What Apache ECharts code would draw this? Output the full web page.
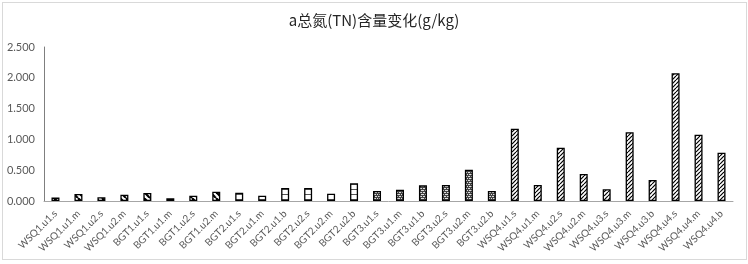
<!DOCTYPE html>
<html>
<head>
<meta charset="utf-8">
<script src="https://cdn.jsdelivr.net/npm/echarts@6/dist/echarts.min.js"></script>
<style>
html, body { margin: 0; padding: 0; background: #fff; }
#tnChart { position: absolute; left: 0; top: 0; width: 748px; height: 264px; }
#frame { position: absolute; left: 2px; top: 2px; width: 743px; height: 256px; border: 1px solid #d9d9d9; pointer-events: none; }
</style>
</head>
<body>
<div id="tnChart"></div>
<div id="frame"></div>
<script>
// 采样点
var sites = ['WSQ1.u1.s', 'WSQ1.u1.m', 'WSQ1.u2.s', 'WSQ1.u2.m', 'BGT1.u1.s', 'BGT1.u1.m', 'BGT1.u2.s', 'BGT1.u2.m',
	'BGT2.u1.s', 'BGT2.u1.m', 'BGT2.u1.b', 'BGT2.u2.s', 'BGT2.u2.m', 'BGT2.u2.b',
	'BGT3.u1.s', 'BGT3.u1.m', 'BGT3.u1.b', 'BGT3.u2.s', 'BGT3.u2.m', 'BGT3.u2.b',
	'WSQ4.u1.s', 'WSQ4.u1.m', 'WSQ4.u2.s', 'WSQ4.u2.m', 'WSQ4.u3.s', 'WSQ4.u3.m', 'WSQ4.u3.b', 'WSQ4.u4.s', 'WSQ4.u4.m', 'WSQ4.u4.b'];
// 总氮含量 g/kg
var tnValues = [0.055, 0.114, 0.060, 0.103, 0.130, 0.043, 0.087, 0.150,
	0.135, 0.087, 0.211, 0.211, 0.119, 0.287,
	0.162, 0.184, 0.254, 0.260, 0.508, 0.162,
	1.174, 0.260, 0.866, 0.438, 0.190, 1.115, 0.341, 2.073, 1.077, 0.785];
// 每个柱子的填充样式
var fillKind = ['wide', 'wide', 'wide', 'wide', 'wide', 'wide', 'wide', 'wide',
	'hline', 'hline', 'hline', 'hline', 'hline', 'hline',
	'brick', 'brick', 'brick', 'brick', 'brick', 'brick',
	'fine', 'fine', 'fine', 'fine', 'fine', 'fine', 'fine', 'fine', 'fine', 'fine'];
var yTicks = [0, 0.5, 1, 1.5, 2, 2.5];

// 生成填充图案
function makePattern(kind) {
	var c = document.createElement('canvas');
	var ctx = c.getContext('2d');
	if (kind == 'wide') {
		c.width = 6; c.height = 6;
		ctx.fillStyle = '#fff'; ctx.fillRect(0, 0, 6, 6);
		ctx.strokeStyle = '#000'; ctx.lineWidth = 2.2;
		for (var k = -6; k <= 12; k += 6) {
			ctx.beginPath(); ctx.moveTo(k, 0); ctx.lineTo(k + 6, 6); ctx.stroke();
		}
	} else if (kind == 'hline') {
		c.width = 4; c.height = 5;
		ctx.fillStyle = '#fff'; ctx.fillRect(0, 0, 4, 5);
		ctx.fillStyle = '#555'; ctx.fillRect(0, 4, 4, 1);
	} else if (kind == 'brick') {
		c.width = 6; c.height = 4;
		ctx.fillStyle = '#444'; ctx.fillRect(0, 0, 6, 4);
		ctx.fillStyle = '#ddd'; ctx.fillRect(0, 0, 2, 1); ctx.fillRect(3, 0, 2, 1);
		ctx.fillRect(1, 2, 3, 1); ctx.fillRect(5, 2, 1, 1);
	} else {
		c.width = 4; c.height = 4;
		ctx.fillStyle = '#fff'; ctx.fillRect(0, 0, 4, 4);
		ctx.strokeStyle = '#000'; ctx.lineWidth = 1.2;
		for (var k = -4; k <= 8; k += 4) {
			ctx.beginPath(); ctx.moveTo(k, 4); ctx.lineTo(k + 4, 0); ctx.stroke();
		}
	}
	return { image: c, repeat: 'repeat' };
}

var patterns = {};
var barData = [];
for (var i = 0; i < tnValues.length; i++) {
	var kind = fillKind[i];
	if (!patterns[kind]) patterns[kind] = makePattern(kind);
	barData.push({
		value: tnValues[i],
		itemStyle: { color: patterns[kind] }
	});
}

var myChart = echarts.init(document.getElementById('tnChart'));
var option = {
	animation: false,
	title: {
		text: 'a总氮(TN)含量变化(g/kg)',
		left: 'center',
		top: 8,
		textStyle: { fontFamily: 'Noto Sans CJK SC', fontSize: 15, fontWeight: 'normal', color: '#262626' }
	},
	grid: { left: 44, right: 15, top: 47, bottom: 63 },
	xAxis: {
		type: 'category',
		data: sites,
		axisLine: { lineStyle: { color: '#a6a6a6', width: 1 } },
		axisTick: { show: false },
		axisLabel: { interval: 0, rotate: 45, fontSize: 10, color: '#595959', margin: 11, fontFamily: 'Lato' }
	},
	yAxis: {
		type: 'value',
		min: yTicks[0],
		max: yTicks[yTicks.length - 1],
		interval: 0.5,
		splitLine: { show: false },
		axisLine: { show: true, lineStyle: { color: '#7f7f7f', width: 1 } },
		axisTick: { show: false },
		axisLabel: {
			fontSize: 11, color: '#595959', margin: 9, fontFamily: 'Lato',
			formatter: function(v) { return v.toFixed(3); }
		}
	},
	series: [{
		type: 'bar',
		barWidth: 8,
		itemStyle: { borderColor: '#000', borderWidth: 1.3 },
		data: barData
	}]
};
myChart.setOption(option);
</script>
</body>
</html>
